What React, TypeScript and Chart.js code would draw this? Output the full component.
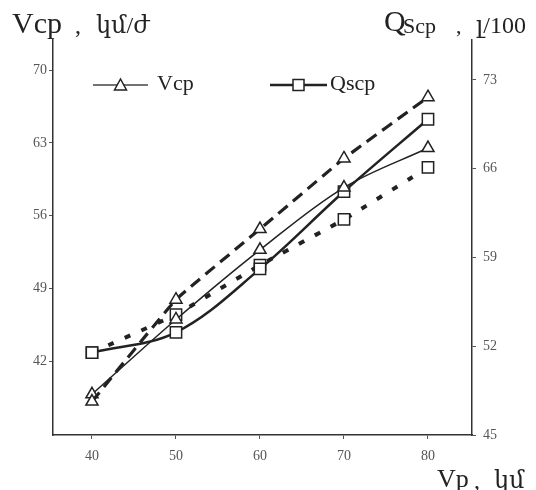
import React, { useEffect, useRef } from 'react';
import { Chart, registerables } from 'chart.js';

Chart.register(...registerables);

// ---- data ----
const speedCategories = [40, 50, 60, 70, 80];
const vcpDashed = [38.1, 47.9, 54.7, 61.5, 67.4];
const vcpSolid = [38.8, 46.0, 52.7, 58.7, 62.5];
const qscpSolid = [51.5, 53.1, 58.1, 64.2, 69.9];
const qscpDotted = [51.5, 54.5, 58.4, 62.0, 66.1];
const leftTicks = [42, 49, 56, 63, 70];
const rightTicks = [45, 52, 59, 66, 73];
const legendLabels = ['Vcp', 'Qscp'];

const INK = '#222';
const SERIF = "'Liberation Serif', 'DejaVu Serif', serif";

function pts(vals: number[]) {
  return speedCategories.map((x, i) => ({ x, y: vals[i] }));
}

const legendPlugin = {
  id: 'inlineLegend',
  afterDraw(chart: any) {
    const ctx = chart.ctx;
    ctx.save();
    const items = [
      { label: legendLabels[0], x0: 93, x1: 148, tx: 157, y: 85, marker: 'triangle', lw: 1.5, color: '#444' },
      { label: legendLabels[1], x0: 270, x1: 327, tx: 330, y: 85, marker: 'square', lw: 2.5, color: INK },
    ];
    for (const it of items) {
      ctx.strokeStyle = it.color;
      ctx.lineWidth = it.lw;
      ctx.setLineDash([]);
      ctx.beginPath();
      ctx.moveTo(it.x0, it.y);
      ctx.lineTo(it.x1, it.y);
      ctx.stroke();
      const cx = (it.x0 + it.x1) / 2;
      ctx.fillStyle = '#fff';
      ctx.strokeStyle = INK;
      ctx.lineWidth = 1.5;
      ctx.beginPath();
      if (it.marker === 'triangle') {
        ctx.moveTo(cx, it.y - 6);
        ctx.lineTo(cx + 6, it.y + 5);
        ctx.lineTo(cx - 6, it.y + 5);
        ctx.closePath();
      } else {
        ctx.rect(cx - 5.5, it.y - 5.5, 11, 11);
      }
      ctx.fill();
      ctx.stroke();
      ctx.fillStyle = INK;
      ctx.font = `22px ${SERIF}`;
      ctx.textBaseline = 'middle';
      ctx.fillText(it.label, it.tx, it.y - 1);
    }
    ctx.restore();
  },
};

const tickFont = { family: SERIF, size: 14 };

function Label({ text, size, left, baseline }: { text: string; size: number; left: number; baseline: number }) {
  return (
    <div
      style={{
        position: 'absolute',
        left,
        top: baseline - size * 0.8375,
        fontFamily: SERIF,
        fontSize: size,
        lineHeight: `${size}px`,
        whiteSpace: 'pre',
        color: INK,
      }}
    >
      {text}
    </div>
  );
}

export default function App() {
  const ref = useRef<HTMLCanvasElement | null>(null);

  useEffect(() => {
    if (!ref.current) return;
    const pointBase = {
      pointBackgroundColor: '#fff',
      pointBorderColor: INK,
      pointBorderWidth: 1.5,
      borderColor: INK,
    };
    const chart = new Chart(ref.current, {
      type: 'line',
      data: {
        datasets: [
          {
            label: 'Vcp',
            data: pts(vcpDashed),
            yAxisID: 'y',
            borderWidth: 3.2,
            borderDash: [12, 7],
            pointStyle: 'triangle',
            pointRadius: 7,
            tension: 0.1,
            ...pointBase,
          },
          {
            label: 'Vcp',
            data: pts(vcpSolid),
            yAxisID: 'y',
            borderWidth: 1.5,
            pointStyle: 'triangle',
            pointRadius: 7,
            tension: 0.35,
            ...pointBase,
          },
          {
            label: 'Qscp',
            data: pts(qscpSolid),
            yAxisID: 'y1',
            borderWidth: 2.5,
            pointStyle: 'rect',
            pointRadius: 8,
            tension: 0.35,
            ...pointBase,
          },
          {
            label: 'Qscp',
            data: pts(qscpDotted),
            yAxisID: 'y1',
            borderWidth: 4,
            borderDash: [6, 12],
            pointStyle: 'rect',
            pointRadius: 8,
            tension: 0.1,
            ...pointBase,
          },
        ] as any,
      },
      options: {
        responsive: false,
        animation: false,
        layout: { padding: { top: 40, left: 0, right: 0, bottom: 0 } },
        plugins: { legend: { display: false }, tooltip: { enabled: false } },
        scales: {
          x: {
            type: 'linear',
            min: 35.36,
            max: 85.24,
            afterBuildTicks: (s: any) => {
              s.ticks = speedCategories.map((v) => ({ value: v }));
            },
            afterFit: (s: any) => {
              s.height = 55;
            },
            ticks: { font: tickFont, color: '#555', padding: 9 },
            grid: { drawOnChartArea: false, color: '#555', tickLength: 4 },
            border: { color: '#333', width: 1.5 },
          },
          y: {
            type: 'linear',
            position: 'left',
            min: 34.88,
            max: 72.9,
            afterBuildTicks: (s: any) => {
              s.ticks = leftTicks.map((v) => ({ value: v }));
            },
            afterFit: (s: any) => {
              s.width = 53;
            },
            ticks: { font: tickFont, color: '#555', padding: 2 },
            grid: { drawOnChartArea: false, color: '#555', tickLength: 4 },
            border: { color: '#333', width: 1.5 },
          },
          y1: {
            type: 'linear',
            position: 'right',
            min: 45,
            max: 76.15,
            afterBuildTicks: (s: any) => {
              s.ticks = rightTicks.map((v) => ({ value: v }));
            },
            afterFit: (s: any) => {
              s.width = 64;
            },
            ticks: { font: tickFont, color: '#555', padding: 7 },
            grid: { drawOnChartArea: false, color: '#555', tickLength: 4 },
            border: { color: '#333', width: 1.5 },
          },
        },
      } as any,
      plugins: [legendPlugin],
    });
    return () => chart.destroy();
  }, []);

  return (
    <div
      style={{
        position: 'fixed',
        left: 0,
        top: 0,
        width: 536,
        height: 490,
        overflow: 'hidden',
        background: '#fff',
      }}
    >
      <canvas ref={ref} width={536} height={490} style={{ display: 'block', position: 'absolute', left: 0, top: 0 }} />
      <Label text="Vcp" size={30} left={12} baseline={33} />
      <Label text="," size={24} left={75} baseline={33} />
      <Label text="կմ/ժ" size={24} left={96} baseline={33} />
      <Label text="Q" size={30} left={384} baseline={31} />
      <Label text="Scp" size={22} left={403} baseline={33} />
      <Label text="," size={22} left={456} baseline={33} />
      <Label text="լ/100" size={24} left={476} baseline={33} />
      <Label text="Vp" size={26} left={437} baseline={488} />
      <Label text="," size={24} left={474} baseline={488} />
      <Label text="կմ" size={24} left={494} baseline={488} />
    </div>
  );
}
